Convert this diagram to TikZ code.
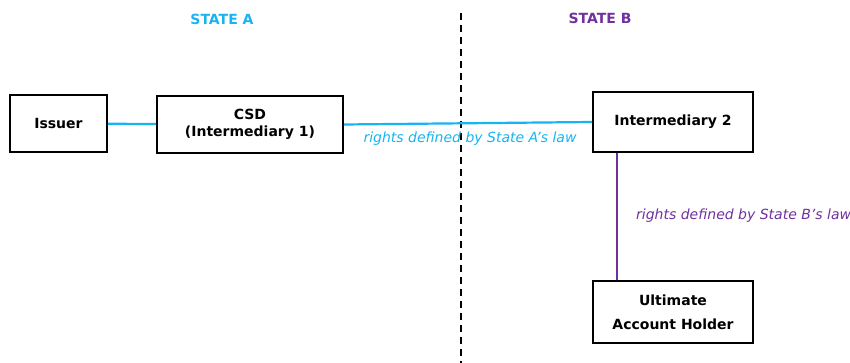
\documentclass[tikz,border=0pt]{standalone}
\usepackage{fontspec}
\setmainfont{DejaVu Sans}
\usetikzlibrary{positioning}
\definecolor{stateA}{RGB}{22,180,240}
\definecolor{stateB}{RGB}{112,48,160}

\begin{document}
\begin{tikzpicture}[x=1pt, y=1pt,
		party/.style={draw, line width=2pt, minimum height=57pt, inner sep=2pt, align=center,
			font=\fontsize{14}{16.5}\selectfont\bfseries},
		link/.style={line width=2.2pt},
		lawlabel/.style={font=\fontsize{14}{16}\selectfont\itshape, inner sep=0pt},
		statelabel/.style={font=\fontsize{14}{16}\selectfont\bfseries, inner sep=0pt}]
	\useasboundingbox (0,0) rectangle (850,363);
	%States
	\node[statelabel, text=stateA](stA) at (222,344) {STATE A};
	\node[statelabel, text=stateB](stB) at (600,345) {STATE B};
	\coordinate (divtop) at (461,350);
	\coordinate (divbot) at (461,0);
	\draw[line width=1.5pt, dash pattern=on 7pt off 5pt] (divtop) -- (divbot);
	%Chain
	\node[party, minimum width=97pt](issuer) at (58.5,239.5) {Issuer};
	\node[party, minimum width=186pt](csd) at (250,238.5) {CSD\\(Intermediary 1)};
	\node[party, minimum width=160pt, minimum height=60pt](int2) at (673,241) {Intermediary 2};
	\node[party, minimum width=160pt, minimum height=62pt, font=\fontsize{14}{24}\selectfont\bfseries](holder) at (673,51) {Ultimate\\Account Holder};
	\draw[link, stateA] (issuer) -- (csd);
	\draw[link, stateA] (csd.east) -- (int2.west);
	\draw[link, stateB] ([xshift=25pt]int2.south west) -- ([xshift=25pt]holder.north west);
	%Labels
	\node[lawlabel, text=stateA](lawA) at (470,224) {rights defined by State A’s law};
	\node[lawlabel, text=stateB, anchor=west](lawB) at (636,147) {rights defined by State B’s law};
\end{tikzpicture}
\end{document}
